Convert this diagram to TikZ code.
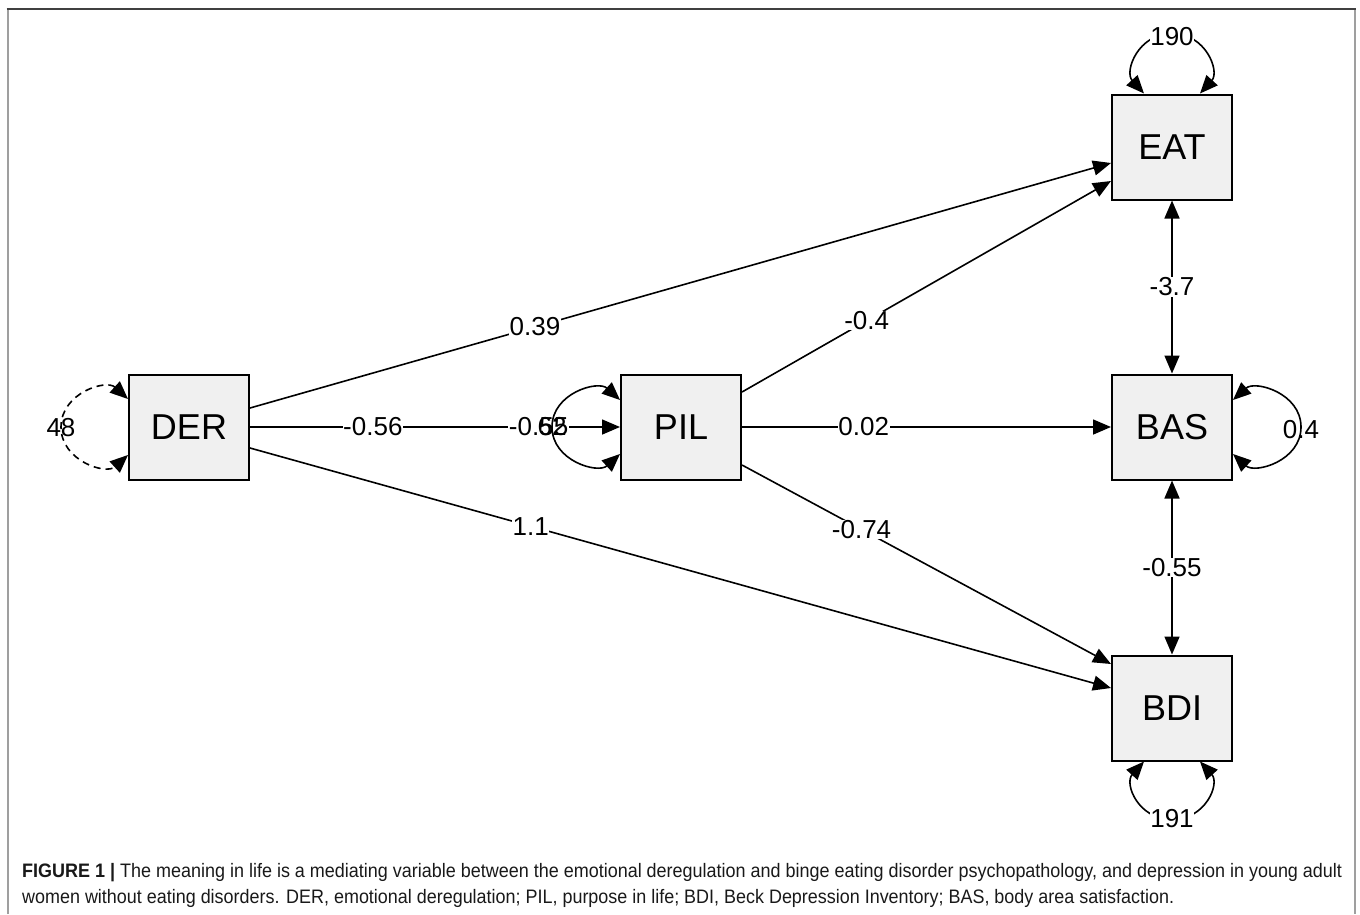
\documentclass[tikz,border=0pt]{standalone}
\usepackage{fontspec}
\setmainfont{Liberation Sans}
\usepackage{graphicx}
\usetikzlibrary{arrows.meta,calc}
\begin{document}
\begin{tikzpicture}[x=1pt,y=-1pt,
  var/.style={draw=black,line width=2pt,fill=gray!12,minimum width=120pt,minimum height=105pt,inner sep=0pt,font=\fontsize{36}{40}\selectfont},
  edge/.style={line width=1.6pt,-{Triangle[length=18pt,width=15pt]}},
  dedge/.style={line width=1.6pt,{Triangle[length=18pt,width=15pt]}-{Triangle[length=18pt,width=15pt]}},
  lab/.style={font=\fontsize{26}{28}\selectfont,fill=white,inner sep=0.5pt},
  nlab/.style={font=\fontsize{26}{28}\selectfont,inner sep=0pt},
  frame/.style={line width=2pt},
  captxt/.style={anchor=base west,inner sep=0pt,text=black!90,font=\fontsize{19.5}{22}\selectfont}
]
\useasboundingbox (0,0) rectangle (1360,914);
% frame
\draw[frame,gray!75] (7.5,914) -- (7.5,9);
\draw[frame,gray!75] (1355,9) -- (1355,914);
\draw[frame,black!75] (6.5,9) -- (1356,9);

% nodes
\node[var] (DER) at (189,427) {DER};
\node[var] (PIL) at (681,427) {PIL};
\node[var] (EAT) at (1172,147) {EAT};
\node[var] (BAS) at (1172,427) {BAS};
\node[var] (BDI) at (1172,708) {BDI};

% directed edges
\draw[edge] ($(DER.east)+(0,-19)$) -- node[lab,pos=0.331]{0.39} ($(EAT.west)+(0,16)$);
\draw[edge] (DER.east) -- node[lab,pos=0.332]{-0.56} node[lab,pos=0.78]{-0.55} (PIL.west);
\draw[edge] ($(PIL.east)+(0,-35)$) -- node[lab,pos=0.338]{-0.4} ($(EAT.west)+(0,34)$);
\draw[edge] (PIL.east) -- node[lab,pos=0.33]{0.02} (BAS.west);
\draw[edge] ($(PIL.east)+(0,38)$) -- node[lab,pos=0.324]{-0.74} ($(BDI.west)+(0,-44)$);
\draw[edge] ($(DER.east)+(0,21)$) -- node[lab,pos=0.326]{1.1} ($(BDI.west)+(0,-20)$);

% covariances
\draw[dedge] (EAT.south) -- node[lab,pos=0.5]{-3.7} (BAS.north);
\draw[dedge] (BAS.south) -- node[lab,pos=0.5]{-0.55} (BDI.north);

% variance loops
\draw[dedge,dash pattern=on 7pt off 5pt] ($(DER.west)+(0,-28)$) .. controls +(-22,-20) and +(0,-34) .. ($(DER.west)+(-67,0)$) .. controls +(0,34) and +(-22,20) .. ($(DER.west)+(0,28)$);
\node[nlab] (l48) at ($(DER.west)+(-67,1)$) {48};

\draw[dedge] ($(PIL.west)+(0,-27)$) .. controls +(-22,-20) and +(0,-34) .. ($(PIL.west)+(-68,0)$) .. controls +(0,34) and +(-22,20) .. ($(PIL.west)+(0,27)$);
\node[nlab] (l62) at ($(PIL.west)+(-68,0)$) {62};

\draw[dedge] ($(EAT.north)+(-28,0)$) .. controls +(-20,-22) and +(-34,0) .. ($(EAT.north)+(0,-60)$) .. controls +(34,0) and +(20,-22) .. ($(EAT.north)+(28,0)$);
\node[lab] (l190) at ($(EAT.north)+(0,-57)$) {190};

\draw[dedge] ($(BAS.east)+(0,-27)$) .. controls +(22,-20) and +(0,-34) .. ($(BAS.east)+(68,0)$) .. controls +(0,34) and +(22,20) .. ($(BAS.east)+(0,27)$);
\node[nlab] (l04) at ($(BAS.east)+(68,3)$) {0.4};

\draw[dedge] ($(BDI.south)+(-28,0)$) .. controls +(-20,22) and +(-34,0) .. ($(BDI.south)+(0,58)$) .. controls +(34,0) and +(20,22) .. ($(BDI.south)+(28,0)$);
\node[lab] (l191) at ($(BDI.south)+(0,57)$) {191};

% caption
\node[captxt] (cap1) at (22,877)
  {\resizebox{1320pt}{\height}{\textbf{FIGURE 1 |} The meaning in life is a mediating variable between the emotional deregulation and binge eating disorder psychopathology, and depression in young adult}};
\node[captxt] (cap2) at (22,903)
  {\resizebox{1152pt}{\height}{women without eating disorders. DER, emotional deregulation; PIL, purpose in life; BDI, Beck Depression Inventory; BAS, body area satisfaction.}};
\end{tikzpicture}
\end{document}
